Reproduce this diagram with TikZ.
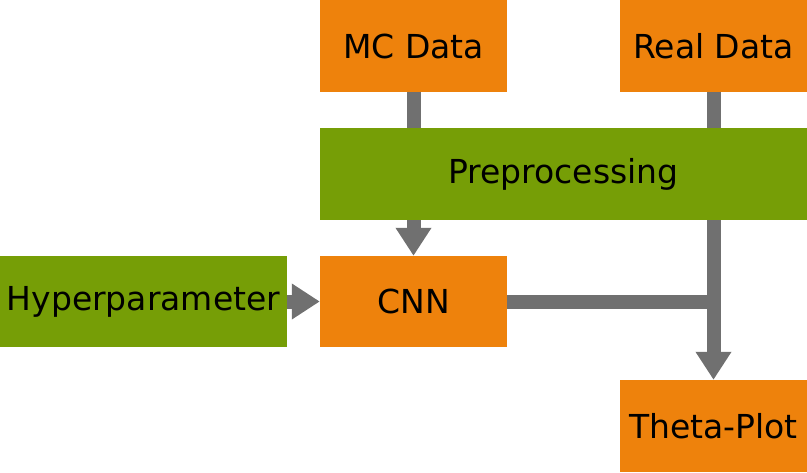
\documentclass[tikz,border=0pt]{standalone}
\usepackage{fontspec}
\setmainfont{DejaVu Sans}
\usetikzlibrary{arrows.meta,backgrounds}
\definecolor{boxorange}{RGB}{238,130,12}
\definecolor{boxgreen}{RGB}{118,158,6}
\definecolor{flowgray}{RGB}{112,112,112}
\begin{document}
\begin{tikzpicture}[x=1pt,y=-1pt]
        \tikzstyle{orange box}=[rectangle,fill=boxorange,inner sep=0,minimum width=187pt,minimum height=92pt,font=\fontsize{33}{40}\selectfont]
        \tikzstyle{green box}=[rectangle,fill=boxgreen,inner sep=0,minimum height=92pt,font=\fontsize{33}{40}\selectfont]
        \tikzstyle{flow}=[draw=flowgray,line width=14pt]
        \tikzstyle{flow arrow}=[flow,-{Triangle[width=34pt,length=28pt]}]

        \useasboundingbox (0,0) rectangle (807,472);

        % Boxes
        \node(mc)[orange box] at (413.5,46){MC Data};
        \node(real)[orange box] at (713.5,46){Real Data};
        \node(pre)[green box,minimum width=487pt] at (563.5,174){Preprocessing};
        \node(hyper)[green box,minimum width=287pt,minimum height=91pt] at (143.5,301.5){Hyperparameter};
        \node(cnn)[orange box,minimum height=91pt] at (413.5,301.5){CNN};
        \node(theta)[orange box] at (713.5,426){Theta-Plot};

        % Connectors (behind the boxes)
        \begin{scope}[on background layer]
            \draw[flow arrow] (mc) -- (cnn);
            \draw[flow arrow] (real) -- (theta);
            \draw[flow arrow] (hyper) -- (cnn);
            \draw[flow] (cnn) -- (cnn -| real);
        \end{scope}
\end{tikzpicture}
\end{document}
